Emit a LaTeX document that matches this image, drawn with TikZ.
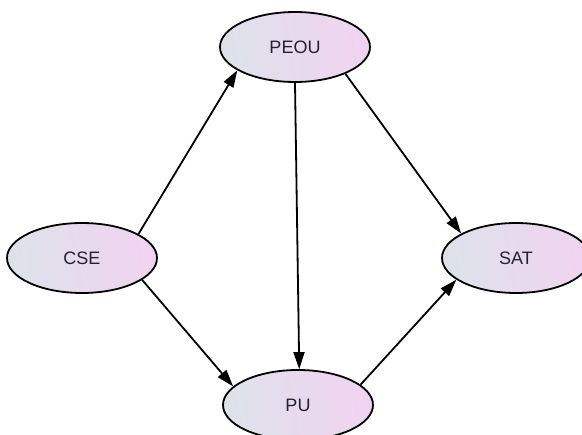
\documentclass[tikz,border=0pt]{standalone}
\usepackage{fontspec}
\setmainfont{Liberation Sans}
\usetikzlibrary{arrows.meta,shapes.geometric}
\definecolor{nodeleft}{HTML}{DDE2EA}
\definecolor{noderight}{HTML}{F1D3F1}
\definecolor{txtdark}{HTML}{22222E}

\begin{document}
\begin{tikzpicture}[x=1pt,y=-1pt,
  construct/.style={ellipse,draw=black,line width=1.8pt,minimum width=150pt,minimum height=70pt,inner sep=0pt,
    left color=nodeleft,right color=noderight,shading angle=100,text=txtdark,font=\fontsize{18}{21}\selectfont},
  arr/.style={-{Triangle[length=17pt,width=11pt]},line width=1.8pt,black}
]
\useasboundingbox (0,0) rectangle (582,435);
\clip (0,0) rectangle (582,435);
% Constructs
\node[construct] (peou) at (295,47) {PEOU};
\node[construct] (cse) at (82,258) {CSE};
\node[construct,minimum width=148pt] (sat) at (516,258) {SAT};
\node[construct] (pu) at (298,405) {PU};

% Paths
\draw[arr] (cse.23) -- (peou.202);
\draw[arr] (cse.340) -- (pu.164);
\draw[arr] (peou.270) -- (pu.88);
\draw[arr] (peou.332) -- (sat.156);
\draw[arr] (pu.18) -- (sat.200);
\end{tikzpicture}
\end{document}
